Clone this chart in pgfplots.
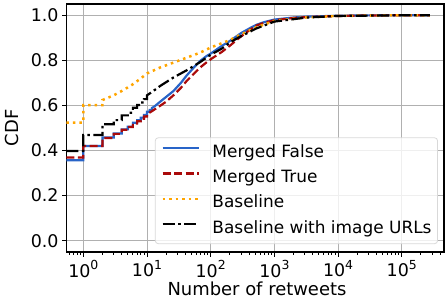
\documentclass[border=0pt]{standalone}
\usepackage{fontspec}
\setmainfont{DejaVu Sans}
\usepackage{pgfplots}
\pgfplotsset{compat=1.18}
\definecolor{mblue}{RGB}{40,100,200}
\definecolor{mred}{RGB}{170,10,10}
\definecolor{morange}{RGB}{255,165,0}
\definecolor{gridc}{RGB}{176,176,176}
\newcommand\tp[1]{10\raisebox{0.45em}{\fontsize{12.5}{12.5}\selectfont #1}}
\begin{document}
\begin{tikzpicture}
\begin{axis}[
  scale only axis, width=377.5bp, height=248bp,
  xmode=log, xmin=0.5445, xmax=460000, ymin=-0.05, ymax=1.05,
  xtick={1,10,100,1000,10000,100000},
  xticklabels={\tp{0},\tp{1},\tp{2},\tp{3},\tp{4},\tp{5}},
  minor xtick={0.6,0.7,0.8,0.9,2,3,4,5,6,7,8,9,20,30,40,50,60,70,80,90,200,300,400,500,600,700,800,900,2000,3000,4000,5000,6000,7000,8000,9000,20000,30000,40000,50000,60000,70000,80000,90000,200000,300000,400000},
  ytick={0,0.2,0.4,0.6,0.8,1},
  yticklabels={0.0,0.2,0.4,0.6,0.8,1.0},
  tick pos=left, tick align=outside,
  major tick length=4.5bp, minor tick length=2.5bp,
  grid=major, major grid style={gridc, line width=1bp},
  axis line style={line width=1.1bp},
  every tick/.style={black, line width=1bp},
  ticklabel style={font=\fontsize{17.5}{17.5}\selectfont},
  xlabel={Number of retweets}, ylabel={CDF},
  label style={font=\fontsize{18}{18}\selectfont},
  xlabel style={at={(axis description cs:0.5046,-0.1774)}, anchor=base},
  ylabel style={at={(axis description cs:-0.1444,0.5)}, anchor=center},
  legend style={at={(axis description cs:0.984,0.032)}, anchor=south east,
    draw=black!15, line width=0.8bp, rounded corners=3bp, fill=white,
    fill opacity=0.8, text opacity=1, draw opacity=1,
    font=\fontsize{17}{17}\selectfont, inner xsep=6bp, inner ysep=7bp,
    row sep=9.3bp, nodes={inner sep=0pt, text height=12.5bp, text depth=3.5bp},
    /tikz/every odd column/.append style={column sep=12.7bp}},
  legend cell align=left,
  legend image code/.code={\draw[#1] (0bp,4.5bp) -- (36bp,4.5bp);},
]
\addplot[mblue, line width=2.2bp] coordinates {
(0.5445,0.357)(1,0.357)(1,0.42)(2,0.42)(2,0.458)(3,0.458)(3,0.476)(4,0.476)(4,0.494)(5,0.494)(5,0.506)(6,0.506)(6,0.523)(7,0.523)(7,0.534)(8,0.534)(8,0.546)(9,0.546)(9,0.558)(10,0.558)(10,0.572)(11,0.572)(11,0.58)(12,0.58)(12,0.589)(13,0.595)(16,0.616)(20,0.638)(26,0.664)(34,0.700)(42,0.733)(55,0.770)(68,0.797)(85,0.818)(100,0.830)(149,0.864)(200,0.886)(300,0.921)(420,0.944)(525,0.958)(700,0.970)(1000,0.981)(2000,0.990)(3200,0.994)(10000,0.998)(30000,0.9995)(100000,1)(275000,1)};
\addlegendentry{Merged False}
\addplot[mred, line width=2.2bp, dash pattern=on 8bp off 3.5bp] coordinates {
(0.5445,0.369)(1,0.369)(1,0.42)(2,0.42)(2,0.456)(3,0.456)(3,0.474)(4,0.474)(4,0.492)(5,0.492)(5,0.504)(6,0.504)(6,0.52)(7,0.52)(7,0.53)(8,0.53)(8,0.541)(9,0.541)(9,0.551)(10,0.551)(10,0.561)(12,0.575)(16,0.598)(20,0.617)(26,0.645)(34,0.678)(42,0.709)(55,0.742)(68,0.768)(85,0.790)(100,0.805)(149,0.837)(200,0.865)(290,0.903)(420,0.937)(525,0.955)(700,0.967)(1000,0.978)(2000,0.988)(3200,0.992)(10000,0.997)(30000,0.999)(100000,1)(275000,1)};
\addlegendentry{Merged True}
\addplot[morange, line width=2.5bp, dash pattern=on 2.5bp off 4bp] coordinates {
(0.5445,0.524)(1,0.524)(1,0.601)(2,0.601)(2,0.624)(3,0.645)(4,0.664)(5,0.68)(6,0.694)(8,0.72)(10,0.742)(16,0.768)(26,0.79)(42,0.812)(68,0.834)(100,0.857)(149,0.876)(200,0.89)(300,0.915)(500,0.945)(1000,0.975)(3000,0.99)(10000,0.997)(100000,1)(275000,1)};
\addlegendentry{Baseline}
\addplot[black, line width=2.2bp, dash pattern=on 12bp off 3.5bp on 2.5bp off 3.5bp] coordinates {
(0.5445,0.398)(1,0.398)(1,0.469)(2,0.469)(2,0.517)(3,0.517)(3,0.535)(4,0.535)(4,0.556)(5,0.556)(5,0.568)(6,0.568)(6,0.59)(7,0.59)(7,0.602)(8,0.602)(8,0.613)(9,0.613)(9,0.628)(10,0.628)(10,0.645)(12,0.66)(16,0.686)(26,0.724)(42,0.756)(68,0.792)(100,0.825)(149,0.852)(200,0.879)(288,0.905)(525,0.942)(1000,0.972)(3200,0.99)(10000,0.997)(100000,1)(275000,1)};
\addlegendentry{Baseline with image URLs}
\end{axis}
\pgfresetboundingbox
\path[use as bounding box] ([xshift=-66.5bp,yshift=-52bp]current axis.south west) rectangle ++(445bp,304bp);
\end{tikzpicture}
\end{document}
